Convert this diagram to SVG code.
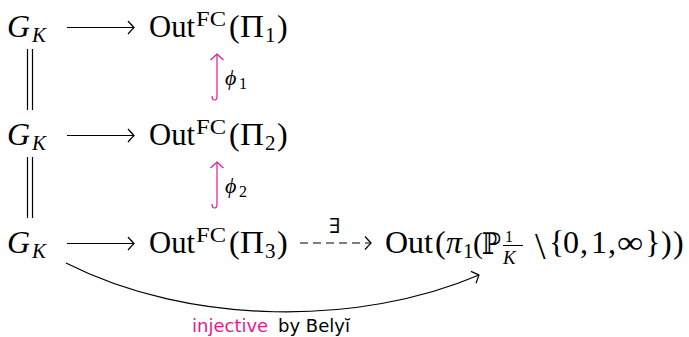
<svg xmlns="http://www.w3.org/2000/svg" width="689" height="337" viewBox="0 0 689 337">
<style>
.m{font-family:"Liberation Serif","DejaVu Serif",serif;font-size:32px;fill:#000}
.s{font-family:"Liberation Serif","DejaVu Serif",serif;font-size:21px;fill:#000}
.ss{font-family:"Liberation Serif","DejaVu Serif",serif;font-size:16px;fill:#000}
.it{font-style:italic}
.lb{font-family:"DejaVu Sans",sans-serif;font-size:18px;fill:#000}
.pk{fill:#e6198c}
.ln{fill:none;stroke:#000;stroke-width:1.2}
.pl{fill:none;stroke:#e6198c;stroke-width:1.2}
</style>
<defs>
<marker id="ah" viewBox="-8 -8 10 16" refX="0" refY="0" markerWidth="10" markerHeight="16" markerUnits="userSpaceOnUse" orient="auto">
<path d="M-6,-6.5 Q-1.5,-1.5 0,0 Q-1.5,1.5 -6,6.5" fill="none" stroke="#000" stroke-width="1.2"/>
</marker>
<marker id="ahp" viewBox="-8 -8 10 16" refX="0" refY="0" markerWidth="10" markerHeight="16" markerUnits="userSpaceOnUse" orient="auto">
<path d="M-6,-6.5 Q-1.5,-1.5 0,0 Q-1.5,1.5 -6,6.5" fill="none" stroke="#e6198c" stroke-width="1.2"/>
</marker>
</defs>

<g id="gk1"><text class="m it" x="7" y="37">G</text><text class="s it" x="32" y="42">K</text></g>
<g id="gk2"><text class="m it" x="7" y="145">G</text><text class="s it" x="32" y="150">K</text></g>
<g id="gk3"><text class="m it" x="7" y="253">G</text><text class="s it" x="32" y="258">K</text></g>

<g id="out1"><text class="m" x="149" y="37" textLength="46" lengthAdjust="spacingAndGlyphs">Out</text><text class="s" x="196" y="26" textLength="30" lengthAdjust="spacingAndGlyphs">FC</text><text class="m" x="229" y="37">(</text><text class="m" x="240" y="37" textLength="24" lengthAdjust="spacingAndGlyphs">Π</text><text class="s" x="265" y="42">1</text><text class="m" x="277" y="37">)</text></g>
<g id="out2"><text class="m" x="149" y="145" textLength="46" lengthAdjust="spacingAndGlyphs">Out</text><text class="s" x="196" y="134" textLength="30" lengthAdjust="spacingAndGlyphs">FC</text><text class="m" x="229" y="145">(</text><text class="m" x="240" y="145" textLength="24" lengthAdjust="spacingAndGlyphs">Π</text><text class="s" x="265" y="150">2</text><text class="m" x="277" y="145">)</text></g>
<g id="out3"><text class="m" x="149" y="253" textLength="46" lengthAdjust="spacingAndGlyphs">Out</text><text class="s" x="196" y="242" textLength="30" lengthAdjust="spacingAndGlyphs">FC</text><text class="m" x="229" y="253">(</text><text class="m" x="240" y="253" textLength="24" lengthAdjust="spacingAndGlyphs">Π</text><text class="s" x="265" y="258">3</text><text class="m" x="277" y="253">)</text></g>

<g id="outpi">
<text class="m" x="385" y="253" textLength="48" lengthAdjust="spacingAndGlyphs">Out</text>
<text class="m" x="435" y="253">(</text>
<text class="m it" x="446" y="253">π</text>
<text class="s" x="463" y="258">1</text>
<text class="m" x="473" y="253" style="font-size:30px">(</text>
<text class="m" x="482" y="254" style="font-size:30px" textLength="19" lengthAdjust="spacingAndGlyphs">ℙ</text>
<text class="ss" x="505" y="242">1</text>
<line x1="503" y1="245.5" x2="523" y2="245.5" stroke="#000" stroke-width="1"/>
<text class="s it" x="503" y="264" style="font-size:19px">K</text>
<text class="m" x="535" y="259" style="font-size:38px">\</text>
<text class="m" x="549" y="253">{</text>
<text class="m" x="563" y="253">0</text>
<text class="m" x="580" y="253">,</text>
<text class="m" x="591" y="253">1</text>
<text class="m" x="608" y="253">,</text>
<text class="m" x="617" y="253" textLength="26" lengthAdjust="spacingAndGlyphs">∞</text>
<text class="m" x="645" y="253">}</text>
<text class="m" x="661" y="253">)</text>
<text class="m" x="673" y="253">)</text>
</g>

<g id="connectors">
<line class="ln" x1="67" y1="27.5" x2="134" y2="27.5" marker-end="url(#ah)"/>
<line class="ln" x1="67" y1="135.5" x2="134" y2="135.5" marker-end="url(#ah)"/>
<line class="ln" x1="67" y1="243.5" x2="134" y2="243.5" marker-end="url(#ah)"/>
<line class="ln" x1="27.5" y1="49" x2="27.5" y2="110"/>
<line class="ln" x1="32.5" y1="49" x2="32.5" y2="110"/>
<line class="ln" x1="27.5" y1="157" x2="27.5" y2="218"/>
<line class="ln" x1="32.5" y1="157" x2="32.5" y2="218"/>
<path class="pl" d="M212,96 Q212,100 214.5,100 Q217,100 217,96 L217,54" marker-end="url(#ahp)"/>
<path class="pl" d="M212,204 Q212,208 214.5,208 Q217,208 217,204 L217,162" marker-end="url(#ahp)"/>
<line class="ln" x1="300" y1="243" x2="371" y2="243" stroke-dasharray="8 5" marker-end="url(#ah)"/>
<path class="ln" d="M66,263 C190,326 360,326 479,275" marker-end="url(#ah)"/>
<text class="m" x="329" y="233" style="font-size:21px">∃</text>
<text class="m it" x="225" y="85" style="font-size:22px">ϕ</text>
<text class="ss" x="239" y="89">1</text>
<text class="m it" x="225" y="193" style="font-size:22px">ϕ</text>
<text class="ss" x="239" y="197">2</text>
<text class="lb pk" x="192" y="332">injective</text>
<text class="lb" x="278" y="332">by Belyĭ</text>
</g>
</svg>
